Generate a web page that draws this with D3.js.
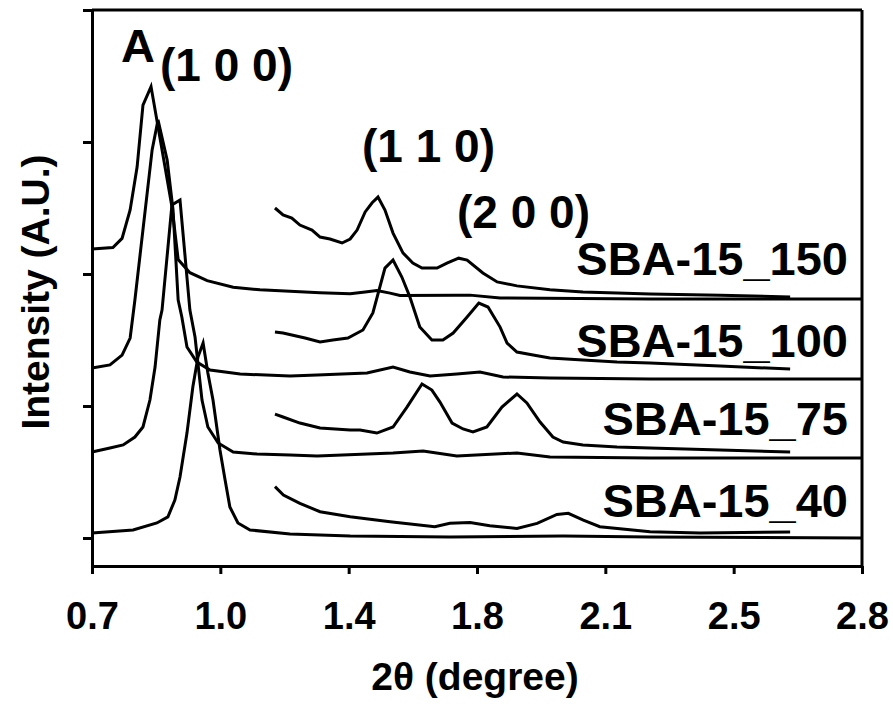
<!DOCTYPE html>
<html>
<head>
<meta charset="utf-8">
<script src="https://cdn.jsdelivr.net/npm/d3@7"></script>
<style>
  html, body { margin: 0; padding: 0; background: #fff; }
  svg { display: block; }
  text { font-family: Arial, "Liberation Sans", Helvetica, sans-serif; font-weight: bold; fill: #000; }
</style>
</head>
<body>
<svg id="chart" width="893" height="704"></svg>
<script>
// ---- Data (2θ in degrees, intensity in arbitrary units, curves offset by sample) ----
const xTickValues = [0.7, 1.05, 1.4, 1.75, 2.1, 2.45, 2.8];
const xTickLabels = ["0.7", "1.0", "1.4", "1.8", "2.1", "2.5", "2.8"];
const yTickValues = [0, 1, 2, 3, 4];

const sampleNames = ["SBA-15_150", "SBA-15_100", "SBA-15_75", "SBA-15_40"];

// full scans (low-angle region incl. (1 0 0))
const sba150Full = [[0.70,2.19],[0.757,2.20],[0.782,2.27],[0.804,2.485],[0.823,2.81],[0.839,3.28],[0.861,3.42],[0.918,2.51],[0.935,2.11],[0.967,2.01],[1.014,1.95],[1.085,1.90],[1.158,1.88],[1.24,1.87],[1.322,1.858],[1.404,1.85],[1.445,1.864],[1.477,1.875],[1.513,1.855],[1.54,1.838],[1.69,1.84],[1.731,1.84],[1.813,1.818],[2.222,1.81],[2.8,1.81]];
const sba100Full = [[0.70,1.288],[0.749,1.311],[0.782,1.386],[0.804,1.515],[0.817,1.803],[0.864,2.94],[0.88,3.167],[0.905,2.864],[0.921,2.485],[0.935,1.803],[0.945,1.674],[0.959,1.447],[0.986,1.333],[1.022,1.273],[1.104,1.242],[1.24,1.227],[1.314,1.235],[1.45,1.25],[1.521,1.295],[1.567,1.258],[1.622,1.227],[1.695,1.242],[1.758,1.258],[1.821,1.22],[1.949,1.212],[2.222,1.205],[2.8,1.205]];
const sba75Full = [[0.70,0.652],[0.749,0.682],[0.785,0.705],[0.817,0.765],[0.839,0.841],[0.858,1.045],[0.872,1.295],[0.885,1.652],[0.891,1.727],[0.918,2.523],[0.94,2.561],[0.967,1.727],[0.981,1.523],[1.00,1.045],[1.016,0.841],[1.044,0.72],[1.085,0.652],[1.15,0.636],[1.24,0.629],[1.314,0.621],[1.521,0.644],[1.603,0.659],[1.695,0.621],[1.859,0.644],[1.949,0.614],[2.222,0.606],[2.8,0.606]];
const sba40Full = [[0.70,0.038],[0.812,0.061],[0.877,0.114],[0.907,0.16],[0.926,0.288],[0.94,0.462],[0.959,0.795],[0.975,1.144],[0.989,1.371],[1.003,1.477],[1.016,1.25],[1.03,1.045],[1.049,0.667],[1.063,0.439],[1.076,0.235],[1.098,0.114],[1.131,0.061],[1.24,0.03],[1.404,0.015],[1.676,0.008],[1.985,0.015],[2.222,0.008],[2.8,0.0]];

// magnified scans (1.2–2.6°, (1 1 0) and (2 0 0) region)
const sba150Zoom = [[1.199,2.50],[1.221,2.447],[1.245,2.424],[1.267,2.371],[1.30,2.333],[1.322,2.28],[1.349,2.265],[1.382,2.235],[1.404,2.265],[1.423,2.333],[1.445,2.47],[1.464,2.54],[1.48,2.583],[1.499,2.485],[1.521,2.31],[1.548,2.16],[1.575,2.083],[1.60,2.045],[1.641,2.045],[1.668,2.083],[1.70,2.12],[1.723,2.106],[1.766,2.008],[1.805,1.94],[1.859,1.91],[1.949,1.88],[2.039,1.864],[2.132,1.856],[2.222,1.848],[2.413,1.84],[2.604,1.826]];
const sba100Zoom = [[1.199,1.561],[1.221,1.553],[1.245,1.538],[1.281,1.515],[1.322,1.485],[1.357,1.50],[1.398,1.515],[1.439,1.576],[1.466,1.705],[1.499,2.045],[1.521,2.106],[1.545,1.977],[1.567,1.826],[1.594,1.598],[1.627,1.50],[1.657,1.50],[1.685,1.553],[1.723,1.674],[1.755,1.78],[1.78,1.75],[1.813,1.598],[1.832,1.477],[1.859,1.409],[1.903,1.386],[1.949,1.364],[2.039,1.348],[2.132,1.333],[2.222,1.326],[2.413,1.303],[2.604,1.28]];
const sba75Zoom = [[1.199,0.939],[1.221,0.917],[1.267,0.871],[1.322,0.833],[1.404,0.818],[1.431,0.818],[1.477,0.795],[1.521,0.841],[1.559,0.992],[1.60,1.167],[1.627,1.121],[1.649,1.03],[1.682,0.871],[1.712,0.826],[1.739,0.803],[1.777,0.841],[1.818,0.992],[1.859,1.091],[1.886,1.023],[1.922,0.879],[1.957,0.765],[1.985,0.727],[2.039,0.705],[2.132,0.689],[2.222,0.682],[2.413,0.667],[2.604,0.652]];
const sba40Zoom = [[1.199,0.389],[1.222,0.326],[1.267,0.263],[1.322,0.199],[1.404,0.161],[1.513,0.123],[1.635,0.086],[1.676,0.111],[1.731,0.118],[1.785,0.093],[1.859,0.073],[1.914,0.111],[1.968,0.179],[1.999,0.187],[2.04,0.136],[2.085,0.086],[2.222,0.048],[2.358,0.038],[2.604,0.045]];

const curves = [sba150Full, sba100Full, sba75Full, sba40Full, sba150Zoom, sba100Zoom, sba75Zoom, sba40Zoom];

// ---- Layout ----
const svg = d3.select("#chart");
const plot = { left: 92, right: 862, top: 10, bottom: 566 };
const x = d3.scaleLinear().domain([0.7, 2.8]).range([plot.left, plot.right]);
const y = d3.scaleLinear().domain([-0.212, 4]).range([plot.bottom, plot.top]);
const font = "Arial, 'Liberation Sans', Helvetica, sans-serif";

// frame (top and right)
svg.append("line").attr("x1", x(0.7)).attr("x2", x(2.8)).attr("y1", y(4)).attr("y2", y(4))
  .attr("stroke", "#000").attr("stroke-width", 3);
svg.append("line").attr("x1", x(2.8)).attr("x2", x(2.8)).attr("y1", y(4)).attr("y2", y(-0.212))
  .attr("stroke", "#000").attr("stroke-width", 3);

// x axis
const xAxis = svg.append("g").attr("transform", `translate(0,${plot.bottom})`)
  .call(d3.axisBottom(x).tickValues(xTickValues).tickFormat((d, i) => xTickLabels[i])
    .tickSize(8).tickSizeOuter(0).tickPadding(28));
xAxis.select(".domain").attr("stroke-width", 3);
xAxis.selectAll(".tick line").attr("stroke-width", 3);
xAxis.selectAll(".tick text").attr("font-family", font).attr("font-weight", "bold")
  .attr("font-size", 38).attr("fill", "#000");

// y axis
const yAxis = svg.append("g").attr("transform", `translate(${plot.left},0)`)
  .call(d3.axisLeft(y).tickValues(yTickValues).tickFormat("").tickSize(9).tickSizeOuter(0));
yAxis.select(".domain").attr("stroke-width", 3);
yAxis.selectAll(".tick line").attr("stroke-width", 3);

// curves
const line = d3.line().x(d => x(d[0])).y(d => y(d[1]));
svg.append("g").selectAll("path").data(curves).join("path")
  .attr("d", line).attr("fill", "none").attr("stroke", "#000")
  .attr("stroke-width", 3).attr("stroke-linejoin", "miter");

// axis titles
svg.append("text").attr("x", 475).attr("y", 690)
  .attr("text-anchor", "middle").attr("font-size", 39).text("2θ (degree)");
svg.append("text").attr("transform", `translate(49,${(plot.top + plot.bottom) / 2 + 4}) rotate(-90)`)
  .attr("text-anchor", "middle").attr("font-size", 39).text("Intensity (A.U.)");

// sample labels
const labelBaselines = [275, 357, 435, 517];
svg.append("g").selectAll("text").data(sampleNames).join("text")
  .attr("x", 848).attr("y", (d, i) => labelBaselines[i])
  .attr("text-anchor", "end").attr("font-size", 47).text(d => d);

// peak labels
svg.append("text").attr("x", 121).attr("y", 62).attr("font-size", 47).text("A");
svg.append("text").attr("x", 160).attr("y", 81).attr("font-size", 46).text("(1 0 0)");
svg.append("text").attr("x", 362).attr("y", 162).attr("font-size", 46).text("(1 1 0)");
svg.append("text").attr("x", 457).attr("y", 228).attr("font-size", 46).text("(2 0 0)");
</script>
</body>
</html>
